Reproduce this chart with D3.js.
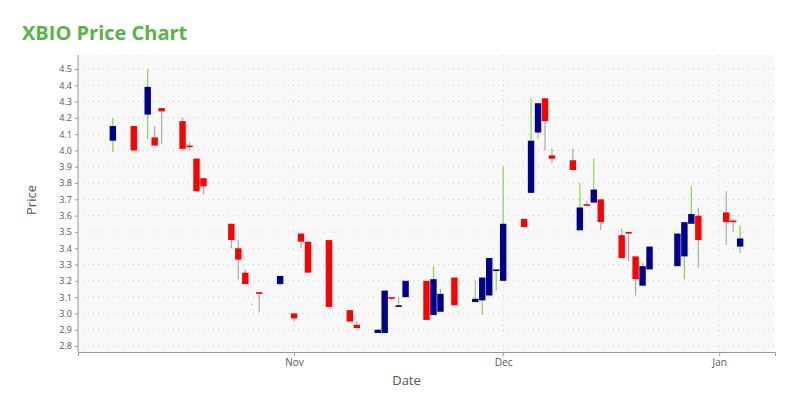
<!DOCTYPE html><html><head><meta charset="utf-8"><script src="https://cdn.jsdelivr.net/npm/d3@7"></script>
<style>body{margin:0;background:#fff;font-family:"Open Sans",sans-serif}</style></head><body><svg id="c" width="800" height="400"></svg>
<script>
const dates=["2023-10-06","2023-10-09","2023-10-11","2023-10-12","2023-10-13","2023-10-16","2023-10-17","2023-10-18","2023-10-19","2023-10-23","2023-10-24","2023-10-25","2023-10-26","2023-10-27","2023-10-30","2023-11-01","2023-11-02","2023-11-03","2023-11-06","2023-11-09","2023-11-10","2023-11-13","2023-11-14","2023-11-15","2023-11-16","2023-11-17","2023-11-20","2023-11-21","2023-11-22","2023-11-24","2023-11-27","2023-11-28","2023-11-29","2023-11-30","2023-12-01","2023-12-04","2023-12-05","2023-12-06","2023-12-07","2023-12-08","2023-12-11","2023-12-12","2023-12-13","2023-12-14","2023-12-15","2023-12-18","2023-12-19","2023-12-20","2023-12-21","2023-12-22","2023-12-26","2023-12-27","2023-12-28","2023-12-29","2024-01-02","2024-01-03","2024-01-04"];
const opens=[4.06,4.15,4.22,4.08,4.26,4.18,4.03,3.95,3.83,3.55,3.40,3.25,3.06,3.13,3.18,3.00,3.49,3.44,3.45,3.02,2.93,2.88,2.88,3.10,3.04,3.10,3.20,2.99,3.01,3.22,3.07,3.08,3.11,3.26,3.20,3.58,3.74,4.11,4.32,3.97,3.94,3.51,3.67,3.68,3.70,3.48,3.50,3.35,3.17,3.27,3.29,3.35,3.55,3.60,3.62,3.57,3.41];
const closes=[4.15,4.00,4.39,4.03,4.24,4.01,4.02,3.75,3.78,3.45,3.33,3.18,3.06,3.12,3.23,2.97,3.44,3.25,3.04,2.95,2.91,2.90,3.14,3.09,3.05,3.20,2.96,3.21,3.12,3.05,3.09,3.22,3.34,3.27,3.55,3.53,4.06,4.29,4.18,3.95,3.88,3.65,3.66,3.76,3.56,3.34,3.49,3.21,3.29,3.41,3.49,3.56,3.61,3.45,3.56,3.56,3.46];
const highs=[4.20,4.15,4.50,4.15,4.26,4.20,4.05,3.95,3.83,3.55,3.45,3.27,3.06,3.13,3.23,3.00,3.49,3.44,3.45,3.02,2.95,2.90,3.14,3.10,3.10,3.20,3.20,3.29,3.15,3.22,3.20,3.22,3.34,3.27,3.90,3.58,4.32,4.29,4.32,4.01,4.01,3.80,3.69,3.95,3.70,3.52,3.50,3.35,3.31,3.41,3.49,3.56,3.78,3.65,3.75,3.58,3.54];
const lows=[3.99,4.00,4.07,4.03,4.04,4.00,4.00,3.75,3.73,3.40,3.21,3.18,3.05,3.01,3.17,2.95,3.40,3.25,3.04,2.95,2.91,2.88,2.88,3.08,3.04,3.10,2.96,2.99,3.01,3.05,3.07,2.99,3.11,3.14,3.20,3.53,3.74,4.07,4.00,3.92,3.88,3.51,3.66,3.68,3.51,3.34,3.32,3.11,3.17,3.27,3.29,3.21,3.55,3.28,3.42,3.50,3.37];
const yTicks=d3.range(28,46).map(v=>v/10);
const xTicks=[["2023-11-01","Nov"],["2023-12-01","Dec"],["2024-01-01","Jan"]];
const p=d3.timeParse("%Y-%m-%d");
const data=dates.map((d,i)=>({d:p(d),o:opens[i],c:closes[i],h:highs[i],l:lows[i]}));
const svg=d3.select("#c");
const L=78,R=775,T=55,B=352;
const x=d3.scaleTime().domain([p("2023-10-01"),p("2024-01-09")]).range([L,R]);
const y=d3.scaleLinear().domain([2.8,4.5]).range([346,69]);
svg.append("rect").attr("x",L).attr("y",T).attr("width",R-L).attr("height",B-T).attr("fill","#f8f8f8");
svg.append("text").attr("x",22).attr("y",40).attr("fill","#5cb247").attr("font-size",20).attr("font-weight","bold").text("XBIO Price Chart");
svg.append("g").selectAll("line").data(yTicks).join("line").attr("x1",L).attr("x2",R).attr("y1",d=>y(d)).attr("y2",d=>y(d)).attr("stroke","#ccc").attr("stroke-dasharray","1,4");
svg.append("g").selectAll("line").data(xTicks).join("line").attr("x1",d=>x(p(d[0]))).attr("x2",d=>x(p(d[0]))).attr("y1",T).attr("y2",B).attr("stroke","#ddd").attr("stroke-dasharray","1,4");
const ya=svg.append("g").attr("transform",`translate(${L},0)`).call(d3.axisLeft(y).tickValues(yTicks).tickFormat(d3.format(".1f")).tickSize(3));
ya.select(".domain").attr("stroke","#999").attr("d",`M0,${T}V${B}`);
ya.selectAll("text").attr("font-size",9).attr("fill","#555").attr("font-family","Open Sans");
ya.selectAll("line").attr("stroke","#999");
const xa=svg.append("g").attr("transform",`translate(0,${B})`).call(d3.axisBottom(x).tickValues(xTicks.map(d=>p(d[0]))).tickFormat((d,i)=>xTicks[i][1]).tickSize(4));
xa.select(".domain").attr("stroke","#999");
xa.selectAll("text").attr("font-size",10).attr("fill","#555").attr("font-family","Open Sans");
xa.selectAll("line").attr("stroke","#999");
svg.append("text").attr("x",(L+R)/2-20).attr("y",385).attr("text-anchor","middle").attr("font-size",13).attr("fill","#555").text("Date");
svg.append("text").attr("transform","translate(36,200) rotate(-90)").attr("text-anchor","middle").attr("font-size",13).attr("fill","#555").text("Price");
const g=svg.append("g");
g.selectAll("line").data(data).join("line").attr("x1",d=>x(d.d)).attr("x2",d=>x(d.d)).attr("y1",d=>y(d.h)).attr("y2",d=>y(d.l)).attr("stroke",d=>d.c>=d.o?"#8ed152":"#aaa").attr("stroke-width",1.2);
g.selectAll("rect").data(data).join("rect").attr("x",d=>x(d.d)-3.2).attr("width",6.4).attr("y",d=>y(Math.max(d.o,d.c))).attr("height",d=>Math.max(1.5,Math.abs(y(d.o)-y(d.c)))).attr("fill",d=>d.c>d.o?"#00008b":(d.c<d.o?"#ff0000":"none"));
</script></body></html>
